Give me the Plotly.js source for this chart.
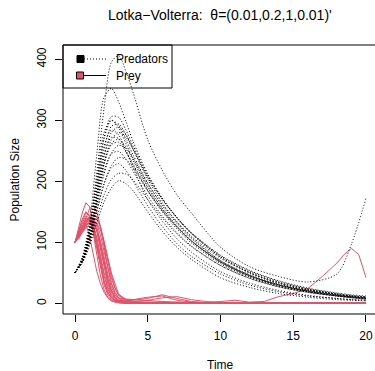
<!DOCTYPE html>
<html>
<head>
<meta charset="utf-8">
<script src="https://cdn.plot.ly/plotly-3.0.1.min.js"></script>
<style>html,body{margin:0;padding:0;background:#fff;}#chart{width:375px;height:371px;}</style>
</head>
<body>
<div id="chart"></div>
<script>
// ---- data ----
const chartTitle = "Lotka\u2212Volterra:  \u03b8=(0.01,0.2,1,0.01)'";
const xTitle = "Time";
const yTitle = "Population Size";
const seriesNames = ["Predators", "Prey"];
const xTicks = [0, 5, 10, 15, 20];
const yTicks = [0, 100, 200, 300, 400];

const predTimes = [0,0.5,1,1.5,2,2.5,3,3.5,4,5,6,7,8,10,12,14,16,18,19,20];
const pred01 = [50,74,124,215,320,395,406,380,345,268,218,178,148,92,60,44,35,48,97,172];
const pred02 = [50,76,132,245,338,352,330,298,265,212,172,141,115,76,50,34,23,15,12,10];
const pred03 = [50,72,120,198,272,306,305,284,258,210,172,140,114,76,51,34,23,15,12,10];
const pred04 = [50,73,118,192,270,300,292,268,243,197,160,131,106,70,47,31,21,14,11,9];
const pred05 = [50,71,112,180,252,290,294,277,254,208,171,141,116,79,54,37,25,17,14,12];
const pred06 = [50,70,108,172,240,280,289,276,252,203,165,133,108,70,46,30,20,13,10,8];
const pred07 = [50,73,117,188,258,284,276,250,222,170,135,106,84,52,33,21,13,8,6,5];
const pred08 = [50,69,104,165,230,268,280,272,252,206,170,140,115,78,53,36,24,16,13,11];
const pred09 = [50,71,112,180,243,272,270,250,228,186,152,125,102,68,45,30,20,13,11,9];
const pred10 = [50,70,108,170,230,260,264,248,226,184,150,122,99,65,43,28,19,12,10,8];
const pred11 = [50,68,102,158,212,246,259,254,238,196,162,134,110,74,50,33,22,15,12,10];
const pred12 = [50,69,106,163,218,245,249,236,216,176,143,116,94,62,41,27,18,12,9,7];
const pred13 = [50,68,100,150,196,226,239,236,222,184,152,125,102,68,46,31,21,14,11,9];
const pred14 = [50,69,103,152,196,222,229,218,200,160,126,98,77,48,30,19,12,8,6,5];
const pred15 = [50,67,97,140,178,203,213,212,202,170,140,114,93,62,41,27,18,12,9,7];
const pred16 = [50,66,94,132,166,189,201,196,184,150,118,92,72,42,26,16,10,6,5,4];
const pred17 = [50,75,124,205,280,300,288,262,237,192,156,127,103,68,45,30,20,13,10,8];
const pred18 = [50,70,108,168,228,262,269,256,234,190,155,126,102,67,44,29,19,12,10,8];

const preyTimes = [0,0.25,0.5,0.75,1,1.25,1.5,1.75,2,2.25,2.5,2.75,3,3.5,4,5,6,7,8,9,10,11,12,13,14,15,16,17,18,18.5,19,19.5,20];
const prey01 = [100,114,128,140,136,118,90,60,34,18,9,5,4,3,2,2,1,1,2,1,3,5,2,3,11,16,24,44,66,80,90,80,42];
const prey02 = [100,118,138,150,142,115,78,45,22,10,4,2,1,0,0,0,0,0,0,0,0,0,0,0,0,0,0,0,0,0,0,0,0];
const prey03 = [100,112,126,135,138,128,108,80,50,27,13,6,3,1,0,0,0,0,0,0,0,0,0,0,0,0,0,0,0,0,0,0,0];
const prey04 = [100,116,132,143,140,122,95,64,37,19,9,4,2,1,0,0,0,0,0,0,0,0,0,0,0,0,0,0,0,0,0,0,0];
const prey05 = [100,110,122,132,136,134,120,96,67,40,21,10,5,4,6,10,12,5,2,1,0,0,0,0,0,0,0,0,0,0,0,0,0];
const prey06 = [100,109,120,128,133,131,121,102,76,48,27,14,7,3,2,2,1,2,1,1,1,0,0,0,0,0,0,0,0,0,0,0,0];
const prey07 = [100,117,135,148,145,124,92,58,30,14,6,3,1,0,0,0,0,0,0,0,0,0,0,0,0,0,0,0,0,0,0,0,0];
const prey08 = [100,108,118,127,134,137,130,112,85,56,32,17,9,6,5,8,14,8,3,1,0,0,0,0,0,0,0,0,0,0,0,0,0];
const prey09 = [100,113,127,138,140,128,104,74,45,24,11,5,2,1,0,0,0,0,0,0,0,0,0,0,0,0,0,0,0,0,0,0,0];
const prey10 = [100,111,124,134,139,135,118,92,62,36,19,9,4,2,1,0,0,0,0,0,0,0,0,0,0,0,0,0,0,0,0,0,0];
const prey11 = [100,110,124,140,155,160,150,125,92,60,34,18,9,3,1,0,0,0,0,0,0,0,0,0,0,0,0,0,0,0,0,0,0];
const prey12 = [100,112,125,136,142,138,120,90,58,32,16,8,4,2,1,0,0,0,0,0,0,0,0,0,0,0,0,0,0,0,0,0,0];
const prey13 = [100,108,119,130,140,146,142,126,98,68,42,24,13,7,6,4,3,2,1,0,0,0,0,0,0,0,0,0,0,0,0,0,0];
const prey14 = [100,122,148,165,158,132,98,64,36,18,9,4,2,1,0,0,0,0,0,0,0,0,0,0,0,0,0,0,0,0,0,0,0];
const prey15 = [100,106,116,124,130,134,132,120,100,75,50,32,15,6,3,1,0,0,0,0,0,0,0,0,0,0,0,0,0,0,0,0,0];
const prey16 = [100,107,117,127,135,140,138,125,102,74,46,26,13,5,3,5,9,11,6,3,1,0,0,0,0,0,0,0,0,0,0,0,0];
const prey17 = [100,118,132,130,110,80,52,32,18,9,4,2,1,0,0,0,0,0,0,0,0,0,0,0,0,0,0,0,0,0,0,0,0];
const prey18 = [100,111,123,134,141,140,126,100,70,42,22,11,5,2,1,0,0,0,0,0,0,0,0,0,0,0,0,0,0,0,0,0,0];

const predRuns = [pred01,pred02,pred03,pred04,pred05,pred06,pred07,pred08,pred09,pred10,pred11,pred12,pred13,pred14,pred15,pred16,pred17,pred18];
const preyRuns = [prey01,prey02,prey03,prey04,prey05,prey06,prey07,prey08,prey09,prey10,prey11,prey12,prey13,prey14,prey15,prey16,prey17,prey18];

// ---- styling / layout ----
const W = 375, H = 371, ML = 63, MR = 0, MT = 45, MB = 57;
const preyColor = "#DF536B";
const font = "Liberation Sans, Arial, Helvetica, sans-serif";
const px = x => (x - ML) / (W - ML - MR);
const py = y => (H - MB - y) / (H - MT - MB);

const traces = [];
preyRuns.forEach(v => traces.push({
  x: preyTimes, y: v, type: "scatter", mode: "lines",
  line: {color: preyColor, width: 1}, hoverinfo: "skip", showlegend: false
}));
predRuns.forEach(v => traces.push({
  x: predTimes, y: v, type: "scatter", mode: "lines",
  line: {color: "#000", width: 1, dash: "1px,2px", shape: "spline", smoothing: 0.8},
  hoverinfo: "skip", showlegend: false
}));

const shapes = [
  // plot box (right side lies beyond the window)
  {type: "line", xref: "paper", yref: "paper", x0: 0, x1: 1.05, y0: 1, y1: 1, line: {color: "#000", width: 1}},
  {type: "line", xref: "paper", yref: "paper", x0: 0, x1: 1.05, y0: 0, y1: 0, line: {color: "#000", width: 1}},
  {type: "line", xref: "paper", yref: "paper", x0: 0, x1: 0, y0: 0, y1: 1, line: {color: "#000", width: 1}},
  // legend
  {type: "rect", xref: "paper", yref: "paper", x0: px(63), x1: px(172), y0: py(88), y1: py(45), line: {color: "#000", width: 1}},
  {type: "rect", xref: "paper", yref: "paper", x0: px(77), x1: px(84), y0: py(62.5), y1: py(55.5), fillcolor: "#000", line: {color: "#000", width: 1}},
  {type: "line", xref: "paper", yref: "paper", x0: px(84), x1: px(106), y0: py(59), y1: py(59), line: {color: "#000", width: 1, dash: "1px,2px"}},
  {type: "rect", xref: "paper", yref: "paper", x0: px(76.5), x1: px(83.5), y0: py(79), y1: py(72), fillcolor: preyColor, line: {color: "#000", width: 1}},
  {type: "line", xref: "paper", yref: "paper", x0: px(83.5), x1: px(106), y0: py(75.5), y1: py(75.5), line: {color: "#000", width: 1}}
];

const annotations = [
  {text: chartTitle, xref: "paper", yref: "paper", x: px(220), y: py(15), xanchor: "center", yanchor: "middle", showarrow: false, font: {family: font, size: 14, color: "#000"}},
  {text: xTitle, xref: "paper", yref: "paper", x: px(220), y: py(365), xanchor: "center", yanchor: "middle", showarrow: false, font: {family: font, size: 12, color: "#000"}},
  {text: yTitle, xref: "paper", yref: "paper", x: px(14), y: py(179.5), xanchor: "center", yanchor: "middle", textangle: -90, showarrow: false, font: {family: font, size: 12, color: "#000"}},
  {text: seriesNames[0], xref: "paper", yref: "paper", x: px(114), y: py(59), xanchor: "left", yanchor: "middle", showarrow: false, font: {family: font, size: 12, color: "#000"}},
  {text: seriesNames[1], xref: "paper", yref: "paper", x: px(114), y: py(75.5), xanchor: "left", yanchor: "middle", showarrow: false, font: {family: font, size: 12, color: "#000"}}
];

const layout = {
  width: W, height: H,
  margin: {l: ML, r: MR, t: MT, b: MB, pad: 0},
  paper_bgcolor: "#fff", plot_bgcolor: "#fff",
  showlegend: false,
  font: {family: font, size: 12, color: "#000"},
  xaxis: {
    range: [-0.825, 20.62], tickvals: xTicks, ticktext: xTicks.map(String),
    ticks: "outside", ticklen: 7, tickwidth: 1, tickcolor: "#000",
    showline: false, showgrid: false, zeroline: false,
    tickfont: {family: font, size: 12, color: "#000"}, ticklabelstandoff: 4
  },
  yaxis: {
    range: [-17.5, 423.4], tickvals: yTicks, ticktext: yTicks.map(String),
    ticks: "outside", ticklen: 7, tickwidth: 1, tickcolor: "#000", tickangle: -90,
    showline: false, showgrid: false, zeroline: false,
    tickfont: {family: font, size: 12, color: "#000"}, ticklabelstandoff: 4
  },
  shapes: shapes,
  annotations: annotations
};

Plotly.newPlot("chart", traces, layout, {staticPlot: true, displayModeBar: false});
</script>
</body>
</html>
